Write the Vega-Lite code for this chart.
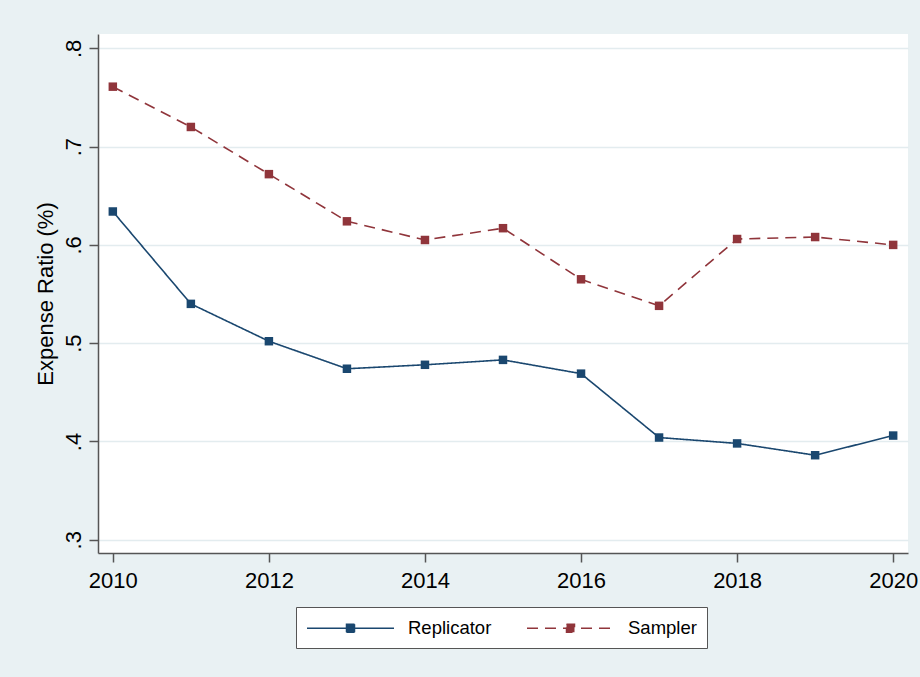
{
  "$schema": "https://vega.github.io/schema/vega-lite/v6.json",
  "width": 810,
  "height": 519,
  "autosize": {"type": "none"},
  "padding": {"left": 98, "top": 34, "right": 12, "bottom": 124},
  "background": "#e9f1f3",
  "config": {
    "font": "Liberation Sans",
    "view": {"fill": "white", "stroke": null}
  },
  "data": {
    "values": [
      {"year": 2010, "series": "Replicator", "ratio": 0.634},
      {"year": 2011, "series": "Replicator", "ratio": 0.540},
      {"year": 2012, "series": "Replicator", "ratio": 0.502},
      {"year": 2013, "series": "Replicator", "ratio": 0.474},
      {"year": 2014, "series": "Replicator", "ratio": 0.478},
      {"year": 2015, "series": "Replicator", "ratio": 0.483},
      {"year": 2016, "series": "Replicator", "ratio": 0.469},
      {"year": 2017, "series": "Replicator", "ratio": 0.404},
      {"year": 2018, "series": "Replicator", "ratio": 0.398},
      {"year": 2019, "series": "Replicator", "ratio": 0.386},
      {"year": 2020, "series": "Replicator", "ratio": 0.406},
      {"year": 2010, "series": "Sampler", "ratio": 0.761},
      {"year": 2011, "series": "Sampler", "ratio": 0.720},
      {"year": 2012, "series": "Sampler", "ratio": 0.672},
      {"year": 2013, "series": "Sampler", "ratio": 0.624},
      {"year": 2014, "series": "Sampler", "ratio": 0.605},
      {"year": 2015, "series": "Sampler", "ratio": 0.617},
      {"year": 2016, "series": "Sampler", "ratio": 0.565},
      {"year": 2017, "series": "Sampler", "ratio": 0.538},
      {"year": 2018, "series": "Sampler", "ratio": 0.606},
      {"year": 2019, "series": "Sampler", "ratio": 0.608},
      {"year": 2020, "series": "Sampler", "ratio": 0.600}
    ]
  },
  "encoding": {
    "x": {
      "field": "year",
      "type": "quantitative",
      "scale": {"domain": [2009.81, 2020.19], "nice": false, "zero": false},
      "axis": {
        "values": [2010, 2012, 2014, 2016, 2018, 2020],
        "format": "d",
        "title": null,
        "grid": false,
        "labelFlush": false,
        "labelFontSize": 22,
        "labelColor": "black",
        "labelPadding": 8,
        "tickSize": 9,
        "tickColor": "#555555",
        "tickWidth": 1.5,
        "domainColor": "#555555",
        "domainWidth": 1.5
      }
    },
    "y": {
      "field": "ratio",
      "type": "quantitative",
      "scale": {"domain": [0.2865, 0.8146], "nice": false, "zero": false},
      "axis": {
        "values": [0.3, 0.4, 0.5, 0.6, 0.7, 0.8],
        "labelExpr": "replace(format(datum.value, '.1f'), '0.', '.')",
        "labelAngle": -90,
        "labelAlign": "center",
        "labelBaseline": "bottom",
        "labelPadding": 4,
        "labelFlush": false,
        "labelFontSize": 22,
        "labelColor": "black",
        "tickSize": 9,
        "tickColor": "#555555",
        "tickWidth": 1.5,
        "domainColor": "#555555",
        "domainWidth": 1.5,
        "grid": true,
        "gridColor": "#e3ecef",
        "gridWidth": 1.5,
        "title": "Expense Ratio (%)",
        "titleFontSize": 22,
        "titleFontWeight": "normal",
        "titleColor": "black",
        "titlePadding": 5
      }
    },
    "color": {
      "field": "series",
      "type": "nominal",
      "scale": {"domain": ["Replicator", "Sampler"], "range": ["#1a476f", "#90353b"]},
      "legend": {
        "title": null,
        "orient": "none",
        "legendX": 198,
        "legendY": 573,
        "direction": "horizontal",
        "columns": 2,
        "padding": 10,
        "fillColor": "white",
        "strokeColor": "#555555",
        "symbolType": "M-4.35,0H4.35M-0.4,-0.4H0.4V0.4H-0.4Z",
        "symbolSize": 400,
        "symbolStrokeWidth": 1.5,
        "symbolOffset": 33.5,
        "labelOffset": 46.5,
        "columnPadding": 32,
        "labelFontSize": 18.5,
        "labelColor": "black",
        "symbolOpacity": 1,
        "encode": {
          "legend": {"update": {"strokeWidth": {"value": 1}}},
          "symbols": {
            "update": {
              "fill": {"scale": "color", "field": "value"},
              "stroke": {"scale": "color", "field": "value"},
              "strokeDash": {"scale": "strokeDash", "field": "value"}
            }
          }
        }
      }
    }
  },
  "layer": [
    {
      "mark": {"type": "line", "strokeWidth": 1.6},
      "encoding": {
        "strokeDash": {
          "field": "series",
          "type": "nominal",
          "scale": {"domain": ["Replicator", "Sampler"], "range": [[1, 0], [11, 7]]}
        }
      }
    },
    {
      "mark": {"type": "point", "shape": "square", "filled": true, "size": 72, "opacity": 1}
    }
  ]
}
